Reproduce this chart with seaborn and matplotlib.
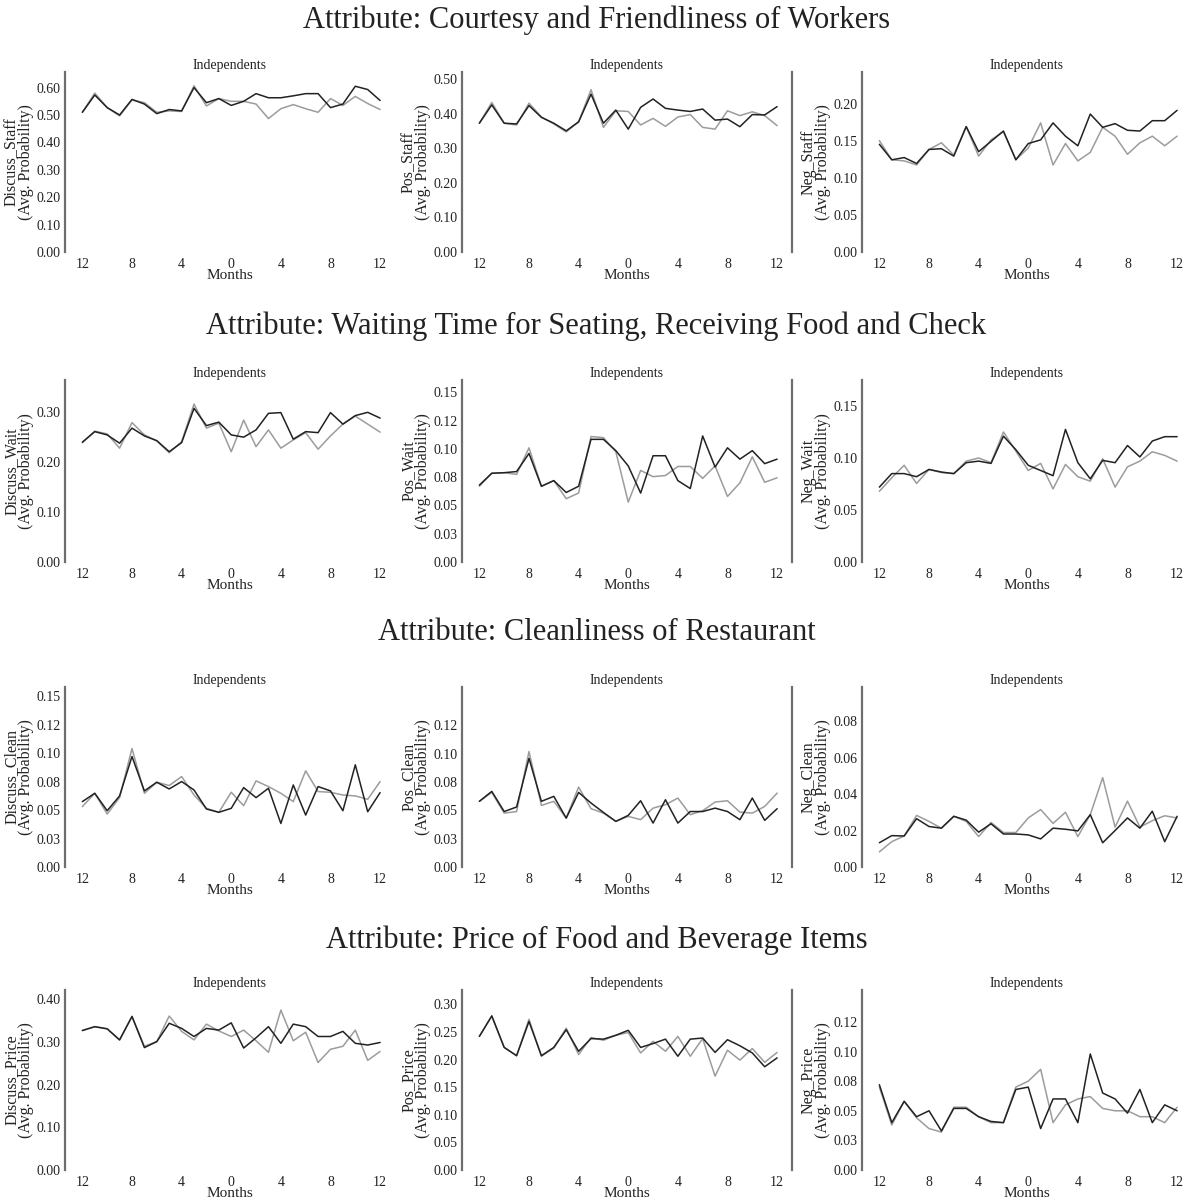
import numpy as np
import pandas as pd
import matplotlib
matplotlib.use("Agg")
import matplotlib.pyplot as plt
import seaborn as sns

sns.set_theme(style="white")
plt.rcParams['font.family'] = ['Liberation Serif', 'DejaVu Serif']

# ---------------- data ----------------
months = list(range(-12, 13))
x_ticks = [-12, -8, -4, 0, 4, 8, 12]
x_tick_labels = ["12", "8", "4", "0", "4", "8", "12"]

row_titles = [
    "Attribute: Courtesy and Friendliness of Workers",
    "Attribute: Waiting Time for Seating, Receiving Food and Check",
    "Attribute: Cleanliness of Restaurant",
    "Attribute: Price of Food and Beverage Items",
]
panel_title = "Independents"
y_names = [
    ["Discuss_Staff", "Pos_Staff", "Neg_Staff"],
    ["Discuss_Wait", "Pos_Wait", "Neg_Wait"],
    ["Discuss_Clean", "Pos_Clean", "Neg_Clean"],
    ["Discuss_Price", "Pos_Price", "Neg_Price"],
]

discuss_staff_a = [0.51, 0.573, 0.527, 0.50, 0.557, 0.54, 0.505, 0.52, 0.515, 0.60, 0.545, 0.56, 0.535,
                   0.55, 0.578, 0.563, 0.563, 0.57, 0.578, 0.578, 0.527, 0.54, 0.605, 0.593, 0.553]
discuss_staff_b = [0.51, 0.58, 0.527, 0.497, 0.555, 0.545, 0.51, 0.515, 0.513, 0.607, 0.533, 0.56, 0.55,
                   0.55, 0.54, 0.487, 0.523, 0.538, 0.523, 0.51, 0.56, 0.535, 0.568, 0.542, 0.52]
pos_staff_a = [0.372, 0.425, 0.372, 0.37, 0.423, 0.389, 0.372, 0.35, 0.376, 0.456, 0.372, 0.41, 0.355,
               0.418, 0.442, 0.415, 0.41, 0.406, 0.413, 0.381, 0.384, 0.362, 0.397, 0.396, 0.42]
pos_staff_b = [0.372, 0.432, 0.372, 0.367, 0.43, 0.39, 0.37, 0.347, 0.376, 0.469, 0.36, 0.408, 0.406,
               0.367, 0.386, 0.363, 0.39, 0.397, 0.36, 0.355, 0.408, 0.394, 0.405, 0.394, 0.365]
neg_staff_a = [0.146, 0.125, 0.128, 0.12, 0.139, 0.14, 0.130, 0.17, 0.136, 0.15, 0.164, 0.125, 0.147,
               0.152, 0.175, 0.157, 0.144, 0.187, 0.169, 0.174, 0.165, 0.164, 0.178, 0.178, 0.192]
neg_staff_b = [0.151, 0.125, 0.1235, 0.118, 0.139, 0.148, 0.1315, 0.17, 0.130, 0.152, 0.163, 0.125, 0.141,
               0.175, 0.118, 0.147, 0.1235, 0.135, 0.169, 0.157, 0.1325, 0.148, 0.157, 0.144, 0.157]

discuss_wait_a = [0.239, 0.26, 0.2535, 0.237, 0.267, 0.2515, 0.242, 0.22, 0.238, 0.3065, 0.272, 0.279, 0.2535,
                  0.249, 0.2635, 0.2965, 0.298, 0.245, 0.26, 0.258, 0.298, 0.275, 0.292, 0.2985, 0.287]
discuss_wait_b = [0.238, 0.261, 0.2555, 0.227, 0.278, 0.2535, 0.2415, 0.218, 0.24, 0.315, 0.267, 0.277, 0.22,
                  0.283, 0.23, 0.2635, 0.227, 0.2435, 0.258, 0.225, 0.2515, 0.275, 0.291, 0.275, 0.259]
pos_wait_a = [0.068, 0.0785, 0.079, 0.08, 0.096, 0.067, 0.072, 0.0615, 0.067, 0.1085, 0.1085, 0.0985, 0.085,
              0.061, 0.094, 0.094, 0.072, 0.065, 0.1115, 0.084, 0.101, 0.091, 0.0985, 0.087, 0.091]
pos_wait_b = [0.067, 0.0785, 0.079, 0.0775, 0.101, 0.067, 0.072, 0.056, 0.061, 0.111, 0.11, 0.0975, 0.053,
              0.081, 0.0755, 0.0765, 0.0845, 0.0845, 0.074, 0.085, 0.058, 0.070, 0.093, 0.0705, 0.0745]
neg_wait_a = [0.072, 0.085, 0.085, 0.082, 0.089, 0.0865, 0.085, 0.0955, 0.097, 0.0948, 0.121, 0.108, 0.093,
              0.088, 0.083, 0.1275, 0.0955, 0.080, 0.0977, 0.0955, 0.112, 0.101, 0.1163, 0.1205, 0.1205]
neg_wait_b = [0.068, 0.081, 0.093, 0.0755, 0.089, 0.086, 0.085, 0.097, 0.1, 0.0955, 0.125, 0.1067, 0.088,
              0.0948, 0.0703, 0.0938, 0.082, 0.0777, 0.0993, 0.072, 0.0915, 0.097, 0.106, 0.1025, 0.097]

discuss_clean_a = [0.0574, 0.0647, 0.0494, 0.0624, 0.097, 0.0668, 0.0744, 0.0685, 0.075, 0.0676, 0.0509, 0.048, 0.0515,
                   0.0697, 0.0609, 0.0691, 0.0382, 0.072, 0.0456, 0.0706, 0.0668, 0.0494, 0.0897, 0.0485, 0.0653]
discuss_clean_b = [0.053, 0.0647, 0.0465, 0.0609, 0.104, 0.0647, 0.0744, 0.0715, 0.0794, 0.0632, 0.0515, 0.048, 0.0656,
                   0.0538, 0.0756, 0.0706, 0.0647, 0.0574, 0.0844, 0.0662, 0.0656, 0.0632, 0.0624, 0.0594, 0.075]
pos_clean_a = [0.058, 0.0668, 0.049, 0.053, 0.096, 0.058, 0.0624, 0.0432, 0.0659, 0.0565, 0.0482, 0.0403, 0.0456,
               0.0585, 0.0388, 0.0594, 0.0388, 0.049, 0.049, 0.052, 0.049, 0.0418, 0.0609, 0.0412, 0.0515]
pos_clean_b = [0.058, 0.0659, 0.0476, 0.049, 0.102, 0.0544, 0.058, 0.0432, 0.0706, 0.0515, 0.0476, 0.0403, 0.0447,
               0.0418, 0.052, 0.055, 0.0609, 0.0462, 0.0497, 0.0574, 0.0585, 0.0485, 0.0476, 0.0535, 0.0653]
neg_clean_a = [0.0133, 0.0172, 0.017, 0.0265, 0.0222, 0.0213, 0.0278, 0.0257, 0.0191, 0.0237, 0.0181, 0.0181, 0.0176,
               0.0154, 0.0213, 0.0207, 0.0198, 0.0287, 0.0133, 0.02, 0.0269, 0.0213, 0.0306, 0.0139, 0.0278]
neg_clean_b = [0.0083, 0.0139, 0.017, 0.0283, 0.025, 0.0213, 0.0278, 0.025, 0.0167, 0.0244, 0.0189, 0.0189, 0.0269,
               0.0315, 0.0239, 0.03, 0.0167, 0.0287, 0.049, 0.0219, 0.0361, 0.0219, 0.0254, 0.0281, 0.0269]

discuss_price_a = [0.327, 0.336, 0.331, 0.305, 0.36, 0.287, 0.301, 0.344, 0.332, 0.313, 0.332, 0.328, 0.345,
                   0.286, 0.31, 0.336, 0.297, 0.342, 0.336, 0.313, 0.313, 0.325, 0.297, 0.293, 0.299]
discuss_price_b = [0.327, 0.336, 0.331, 0.305, 0.36, 0.29, 0.301, 0.361, 0.325, 0.305, 0.342, 0.326, 0.313,
                   0.328, 0.303, 0.276, 0.375, 0.303, 0.323, 0.252, 0.283, 0.29, 0.328, 0.257, 0.278]
pos_price_a = [0.242, 0.279, 0.222, 0.207, 0.269, 0.207, 0.222, 0.254, 0.215, 0.238, 0.237, 0.244, 0.253,
               0.222, 0.229, 0.237, 0.206, 0.237, 0.239, 0.213, 0.236, 0.225, 0.212, 0.187, 0.203]
pos_price_b = [0.242, 0.279, 0.222, 0.207, 0.273, 0.206, 0.221, 0.257, 0.209, 0.24, 0.235, 0.244, 0.249,
               0.212, 0.233, 0.215, 0.242, 0.206, 0.238, 0.17, 0.217, 0.199, 0.22, 0.195, 0.213]
neg_price_a = [0.072, 0.04, 0.058, 0.045, 0.05, 0.033, 0.052, 0.052, 0.045, 0.041, 0.04, 0.068, 0.07,
               0.035, 0.06, 0.06, 0.04, 0.098, 0.065, 0.06, 0.048, 0.068, 0.04, 0.055, 0.05]
neg_price_b = [0.07, 0.038, 0.058, 0.044, 0.035, 0.032, 0.053, 0.053, 0.045, 0.04, 0.04, 0.07, 0.075,
               0.085, 0.04, 0.055, 0.06, 0.062, 0.052, 0.05, 0.05, 0.045, 0.045, 0.04, 0.053]

series = [
    [(discuss_staff_a, discuss_staff_b), (pos_staff_a, pos_staff_b), (neg_staff_a, neg_staff_b)],
    [(discuss_wait_a, discuss_wait_b), (pos_wait_a, pos_wait_b), (neg_wait_a, neg_wait_b)],
    [(discuss_clean_a, discuss_clean_b), (pos_clean_a, pos_clean_b), (neg_clean_a, neg_clean_b)],
    [(discuss_price_a, discuss_price_b), (pos_price_a, pos_price_b), (neg_price_a, neg_price_b)],
]

ticks_010 = [0.0, 0.1, 0.2, 0.3, 0.4, 0.5, 0.6]
labels_010 = ["0.00", "0.10", "0.20", "0.30", "0.40", "0.50", "0.60"]
ticks_005 = [0.0, 0.05, 0.10, 0.15, 0.20, 0.25, 0.30]
labels_005 = ["0.00", "0.05", "0.10", "0.15", "0.20", "0.25", "0.30"]
ticks_0025 = [0.0, 0.025, 0.05, 0.075, 0.10, 0.125, 0.15]
labels_0025 = ["0.00", "0.03", "0.05", "0.08", "0.10", "0.12", "0.15"]
ticks_002 = [0.0, 0.02, 0.04, 0.06, 0.08]
labels_002 = ["0.00", "0.02", "0.04", "0.06", "0.08"]

# y tick spec per panel: (ticks, labels, count)
y_spec = [
    [(ticks_010, labels_010, 7), (ticks_010, labels_010, 6), (ticks_005, labels_005, 5)],
    [(ticks_010, labels_010, 4), (ticks_0025, labels_0025, 7), (ticks_005, labels_005, 4)],
    [(ticks_0025, labels_0025, 7), (ticks_0025, labels_0025, 6), (ticks_002, labels_002, 5)],
    [(ticks_010, labels_010, 5), (ticks_005, labels_005, 7), (ticks_0025, labels_0025, 6)],
]
y_tops = [
    [0.657, 0.52, 0.244],
    [0.363, 0.161, 0.175],
    [0.158, 0.159, 0.0987],
    [0.422, 0.326, 0.152],
]

# ---------------- layout ----------------
W, H = 1193, 1204
fig = plt.figure(figsize=(W / 100, H / 100), dpi=100)
fig.patch.set_facecolor("white")

col_left = [65, 462, 862]
ax_w = 330
row_top = [72, 380, 687, 990]
row_bot = [252, 562, 867, 1170]
title_y = [20, 326, 633, 940]

dark = "#222222"
light = "#9c9c9c"
spine_col = "#6e6e6e"
text_col = "#222222"

for r in range(4):
    fig.text(0.5, 1 - title_y[r] / H, row_titles[r], ha="center", va="center",
             fontsize=22, color=text_col)
    for c in range(3):
        left = col_left[c] / W
        bottom = 1 - row_bot[r] / H
        height = (row_bot[r] - row_top[r]) / H
        ax = fig.add_axes([left, bottom, ax_w / W, height])
        a, b = series[r][c]
        df = pd.DataFrame({"Months": months * 2,
                           "value": list(b) + list(a),
                           "group": ["b"] * len(months) + ["a"] * len(months)})
        sns.lineplot(data=df, x="Months", y="value", hue="group",
                     palette={"a": dark, "b": light}, linewidth=1.1, ax=ax, legend=False)
        ax.set_xlim(-13.4, 13.2)
        ax.set_ylim(0, y_tops[r][c])
        tks, lbls, n = y_spec[r][c]
        ax.set_yticks(tks[:n])
        ax.set_yticklabels(lbls[:n])
        ax.set_xticks(x_ticks)
        ax.set_xticklabels(x_tick_labels)
        ax.tick_params(axis="both", length=0, labelsize=10, colors=text_col, pad=3)
        ax.tick_params(axis="x", pad=4)
        for s in ["top", "bottom"]:
            ax.spines[s].set_visible(False)
        ax.spines["left"].set_color(spine_col)
        ax.spines["left"].set_linewidth(1.6)
        if c == 1:
            ax.spines["right"].set_visible(True)
            ax.spines["right"].set_color(spine_col)
            ax.spines["right"].set_linewidth(1.6)
        else:
            ax.spines["right"].set_visible(False)
        ax.grid(False)
        ax.set_facecolor("white")
        ax.set_title(panel_title, fontsize=10, color=text_col, pad=2)
        ax.set_xlabel("Months", fontsize=11, color=text_col, labelpad=-1)
        ax.set_ylabel(y_names[r][c] + "\n(Avg. Probability)", fontsize=11.5,
                      color=text_col, labelpad=2, linespacing=0.85)

fig.savefig("out.png", dpi=100, facecolor="white")
